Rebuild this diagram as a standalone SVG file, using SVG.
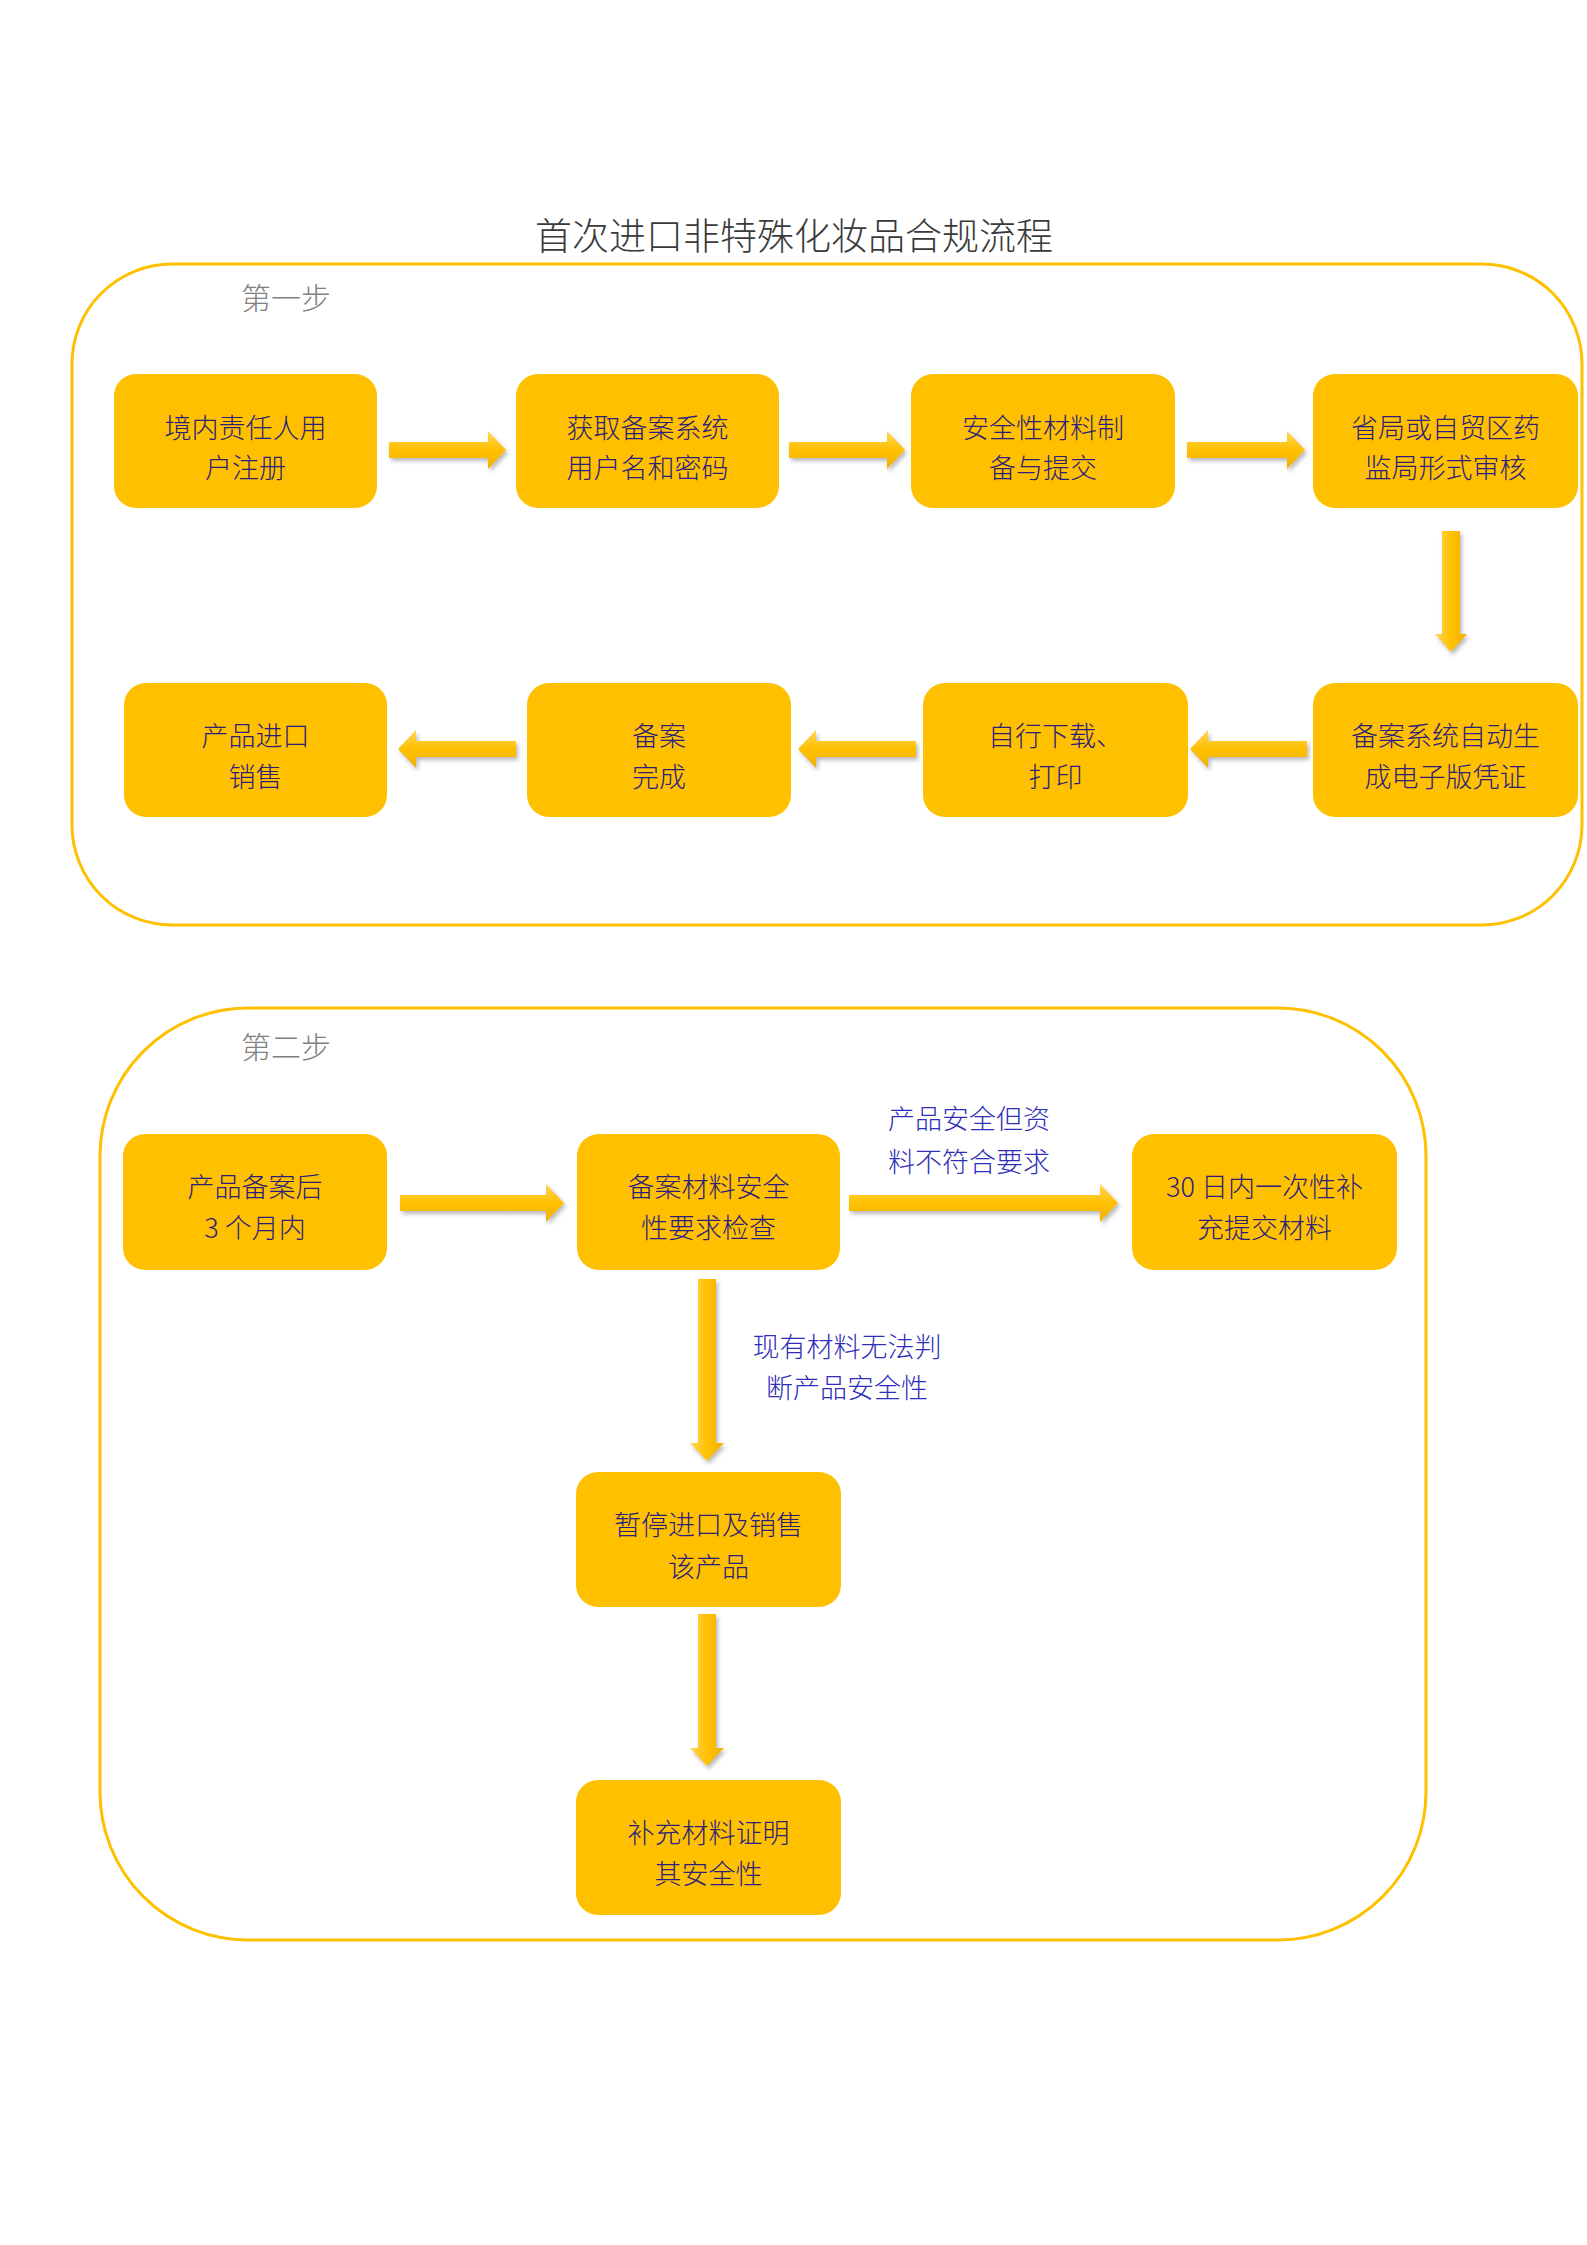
<svg xmlns="http://www.w3.org/2000/svg" width="1587" height="2245" viewBox="0 0 1587 2245">
<defs>
<style>
.frame{fill:none;stroke:#FFC000;stroke-width:3}
.box{fill:#FFC000}
.bt{font-family:"Noto Sans CJK SC","Noto Sans",sans-serif;font-size:27px;font-weight:300;fill:#2B1F7A;text-anchor:middle;dominant-baseline:central}
.lt{font-family:"Noto Sans CJK SC","Noto Sans",sans-serif;font-size:27px;font-weight:300;fill:#2E2EB8;text-anchor:middle;dominant-baseline:central}
.step{font-family:"Noto Sans CJK SC","Noto Sans",sans-serif;font-size:30px;font-weight:300;fill:#808080;dominant-baseline:central}
.title{font-family:"Noto Sans CJK SC","Noto Sans",sans-serif;font-size:37px;font-weight:300;fill:#3A3A3A;text-anchor:middle;dominant-baseline:central}
.arr{fill:url(#gh);filter:url(#sh)}
.arrv{fill:url(#gv);filter:url(#sh)}
</style>
<linearGradient id="gh" x1="0" y1="0" x2="0" y2="1">
<stop offset="0" stop-color="#FFD65A"/>
<stop offset="0.5" stop-color="#FFC000"/>
<stop offset="1" stop-color="#F2B100"/>
</linearGradient>
<linearGradient id="gv" x1="0" y1="0" x2="1" y2="0">
<stop offset="0" stop-color="#FFD65A"/>
<stop offset="0.5" stop-color="#FFC000"/>
<stop offset="1" stop-color="#F2B100"/>
</linearGradient>
<filter id="sh" x="-20%" y="-40%" width="140%" height="180%">
<feDropShadow dx="2" dy="3" stdDeviation="2" flood-color="#808080" flood-opacity="0.55"/>
</filter>
</defs>
<rect width="1587" height="2245" fill="#FFFFFF"/>
<text class="title" x="794" y="234">首次进口非特殊化妆品合规流程</text>

<g id="section1">
<rect class="frame" x="72" y="264" width="1510" height="661" rx="100" ry="100"/>
<text class="step" x="241" y="296">第一步</text>
</g>
<g id="section2">
<rect class="frame" x="100" y="1008" width="1326" height="932" rx="148" ry="148"/>
<text class="step" x="241" y="1045">第二步</text>
</g>

<g id="connectors">
<path class="arr" d="M389,442 H488 V431 L506,450 L488,469 V458 H389 Z"/>
<path class="arr" d="M789,442 H887 V431 L905,450 L887,469 V458 H789 Z"/>
<path class="arr" d="M1187,442 H1287 V431 L1305,450 L1287,469 V458 H1187 Z"/>
<path class="arrv" d="M1442,531 V634 H1435 L1451,652 L1467,634 H1460 V531 Z"/>
<path class="arr" d="M1307,741 H1208 V730 L1190,749 L1208,768 V757 H1307 Z"/>
<path class="arr" d="M916,741 H816 V730 L798,749 L816,768 V757 H916 Z"/>
<path class="arr" d="M516,741 H416 V730 L398,749 L416,768 V757 H516 Z"/>
<path class="arr" d="M400,1195 H546 V1184 L564,1203 L546,1222 V1211 H400 Z"/>
<path class="arr" d="M849,1195 H1100 V1184 L1118,1203 L1100,1222 V1211 H849 Z"/>
<path class="arrv" d="M698,1279 V1443 H690 L707,1461 L724,1443 H716 V1279 Z"/>
<path class="arrv" d="M698,1614 V1748 H690 L707,1766 L724,1748 H716 V1614 Z"/>
<text class="lt" x="969" y="1117">产品安全但资</text>
<text class="lt" x="969" y="1160">料不符合要求</text>
<text class="lt" x="847" y="1345">现有材料无法判</text>
<text class="lt" x="847" y="1386">断产品安全性</text>
</g>

<g id="n1"><rect class="box" x="114" y="374" width="263" height="134" rx="22"/>
<text class="bt" x="245.5" y="426">境内责任人用</text><text class="bt" x="245.5" y="466">户注册</text></g>
<g id="n2"><rect class="box" x="516" y="374" width="263" height="134" rx="22"/>
<text class="bt" x="647.5" y="426">获取备案系统</text><text class="bt" x="647.5" y="466">用户名和密码</text></g>
<g id="n3"><rect class="box" x="911" y="374" width="264" height="134" rx="22"/>
<text class="bt" x="1043" y="426">安全性材料制</text><text class="bt" x="1043" y="466">备与提交</text></g>
<g id="n4"><rect class="box" x="1313" y="374" width="265" height="134" rx="22"/>
<text class="bt" x="1445.5" y="426">省局或自贸区药</text><text class="bt" x="1445.5" y="466">监局形式审核</text></g>

<g id="n5"><rect class="box" x="124" y="683" width="263" height="134" rx="22"/>
<text class="bt" x="255.5" y="734">产品进口</text><text class="bt" x="255.5" y="775">销售</text></g>
<g id="n6"><rect class="box" x="527" y="683" width="264" height="134" rx="22"/>
<text class="bt" x="659" y="734">备案</text><text class="bt" x="659" y="775">完成</text></g>
<g id="n7"><rect class="box" x="923" y="683" width="265" height="134" rx="22"/>
<text class="bt" x="1055.5" y="734">自行下载、</text><text class="bt" x="1055.5" y="775">打印</text></g>
<g id="n8"><rect class="box" x="1313" y="683" width="265" height="134" rx="22"/>
<text class="bt" x="1445.5" y="734">备案系统自动生</text><text class="bt" x="1445.5" y="775">成电子版凭证</text></g>

<g id="m1"><rect class="box" x="123" y="1134" width="264" height="136" rx="22"/>
<text class="bt" x="255" y="1185">产品备案后</text><text class="bt" x="255" y="1226">3 个月内</text></g>
<g id="m2"><rect class="box" x="577" y="1134" width="263" height="136" rx="22"/>
<text class="bt" x="708.5" y="1185">备案材料安全</text><text class="bt" x="708.5" y="1226">性要求检查</text></g>
<g id="m3"><rect class="box" x="1132" y="1134" width="265" height="136" rx="22"/>
<text class="bt" x="1264.5" y="1185">30 日内一次性补</text><text class="bt" x="1264.5" y="1226">充提交材料</text></g>
<g id="m4"><rect class="box" x="576" y="1472" width="265" height="135" rx="22"/>
<text class="bt" x="708.5" y="1523">暂停进口及销售</text><text class="bt" x="708.5" y="1565">该产品</text></g>
<g id="m5"><rect class="box" x="576" y="1780" width="265" height="135" rx="22"/>
<text class="bt" x="708.5" y="1831">补充材料证明</text><text class="bt" x="708.5" y="1872">其安全性</text></g>
</svg>
